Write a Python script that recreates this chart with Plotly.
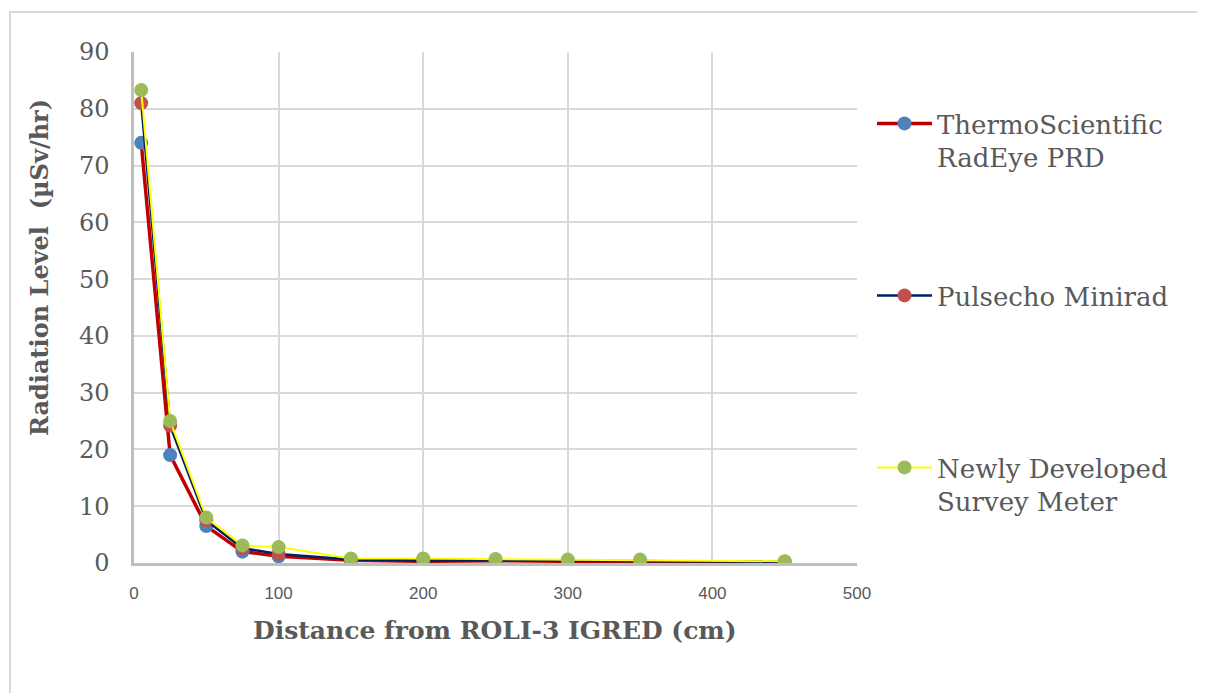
import plotly.graph_objects as go

distance = [5, 25, 50, 75, 100, 150, 200, 250, 300, 350, 450]
thermo = [74.0, 19.0, 6.5, 2.0, 1.2, 0.5, 0.3, 0.4, 0.3, 0.2, 0.1]
pulsecho = [81.0, 24.2, 7.5, 2.6, 1.6, 0.6, 0.4, 0.5, 0.4, 0.3, 0.2]
newly = [83.3, 25.0, 8.0, 3.1, 2.8, 0.8, 0.8, 0.7, 0.6, 0.6, 0.3]

names = ["ThermoScientific<br>RadEye PRD", "Pulsecho Minirad", "Newly Developed<br>Survey Meter"]
x_ticks = [0, 100, 200, 300, 400, 500]
y_ticks = [0, 10, 20, 30, 40, 50, 60, 70, 80, 90]

# page offset (body margin) of the rendered html
OFF = 8
W, H = 1205 - OFF, 693 - OFF
# plot area in screen pixels
SL, SR, ST, SB = 134, 857, 52, 563
L, R, T, B = SL - OFF, SR - OFF, ST - OFF, SB - OFF

serif = "DejaVu Serif, Liberation Serif, serif"
grey_txt = "#595959"

fig = go.Figure()
series = [
    (thermo, names[0], "#C00000", 3.5, "#4F81BD", "legend"),
    (pulsecho, names[1], "#002060", 2.5, "#C0504D", "legend2"),
    (newly, names[2], "#FFFF00", 2.0, "#9BBB59", "legend3"),
]
for vals, nm, lc, lw, mc, lg in series:
    fig.add_trace(go.Scatter(
        x=distance, y=vals, name=nm, mode="lines+markers",
        line=dict(color=lc, width=lw),
        marker=dict(color=mc, size=14, line=dict(width=0)),
        legend=lg,
    ))

def py(p):
    return (SB - p) / (SB - ST)

def px(p):
    return (p - SL) / (SR - SL)

leg_common = dict(
    x=px(872), xanchor="left", yanchor="top",
    font=dict(family=serif, size=26, color=grey_txt),
    bgcolor="rgba(0,0,0,0)", valign="top", itemwidth=55,
)
fig.update_layout(
    width=W, height=H,
    showlegend=True,
    margin=dict(l=L, r=W - R, t=T, b=H - B),
    paper_bgcolor="white", plot_bgcolor="white",
    legend=dict(y=py(100), **leg_common),
    legend2=dict(y=py(272), **leg_common),
    legend3=dict(y=py(444), **leg_common),
    xaxis=dict(
        range=[0, 500], tickvals=x_ticks, ticktext=[str(v) for v in x_ticks],
        showgrid=True, gridcolor="#D9D9D9", gridwidth=1.5,
        showline=True, linecolor="#BFBFBF", linewidth=2.5,
        zeroline=False, ticks="", ticklabelstandoff=13,
        tickfont=dict(family="Liberation Sans Narrow, Liberation Sans, sans-serif", size=17, color=grey_txt),
    ),
    yaxis=dict(
        range=[0, 90], tickvals=y_ticks, ticktext=[str(v) for v in y_ticks],
        showgrid=True, gridcolor="#D9D9D9", gridwidth=1.5,
        showline=True, linecolor="#BFBFBF", linewidth=2.5,
        zeroline=False, ticks="", ticklabelstandoff=17,
        tickfont=dict(family=serif, size=24, color=grey_txt),
    ),
    annotations=[
        dict(text="<b>Radiation Level  (µSv/hr)</b>", textangle=-90,
             x=px(39), y=py(268), xref="paper", yref="paper",
             xanchor="center", yanchor="middle", showarrow=False,
             font=dict(family=serif, size=24, color=grey_txt)),
        dict(text="<b>Distance from ROLI-3 IGRED (cm)</b>",
             x=px(495), y=py(630), xref="paper", yref="paper",
             xanchor="center", yanchor="middle", showarrow=False,
             font=dict(family=serif, size=25, color=grey_txt)),
    ],
    shapes=[
        dict(type="rect", xref="paper", yref="paper",
             x0=px(10), x1=px(1240), y0=py(730), y1=py(12),
             line=dict(color="#D9D9D9", width=2), fillcolor="rgba(0,0,0,0)", layer="below"),
    ],
)

fig.write_html("out.html")
